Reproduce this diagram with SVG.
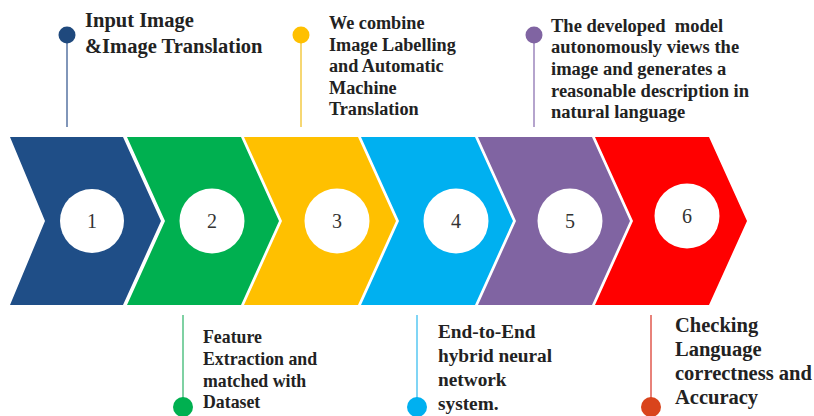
<svg xmlns="http://www.w3.org/2000/svg" width="814" height="416" viewBox="0 0 814 416">
  <style>
    .num { font-family: "Liberation Serif", "Times New Roman", serif; font-size: 20px; fill: #333; text-anchor: middle; }
    .lbl { font-family: "Liberation Serif", "Times New Roman", serif; font-weight: bold; fill: #222; }
    .disc { fill: #fff; }
    .pin { stroke-width: 2; fill: none; }
  </style>
  <defs>
    <!-- one chevron: flat top/bottom, notch on the left, point on the right -->
    <path id="chev" d="M0,137 L114,137 L152,221 L114,305 L0,305 L38,221 Z"/>
  </defs>
  <rect width="814" height="416" fill="#fff"/>

  <!-- connectors: pins from the steps to their captions -->
  <g id="connectors">
    <line class="pin" x1="67" y1="35" x2="67" y2="127" stroke="#8196b9"/>
    <line class="pin" x1="301" y1="35" x2="301" y2="127" stroke="#f6d773"/>
    <line class="pin" x1="534" y1="35" x2="534" y2="127" stroke="#b5a4cd"/>
    <line class="pin" x1="183" y1="315" x2="183" y2="400" stroke="#7fd1a3"/>
    <line class="pin" x1="417" y1="315" x2="417" y2="400" stroke="#80d5f5"/>
    <line class="pin" x1="651" y1="315" x2="651" y2="400" stroke="#e8827a"/>
    <circle cx="67" cy="35" r="8.5" fill="#1f497d"/>
    <circle cx="301" cy="35" r="8.5" fill="#ffc000"/>
    <circle cx="534" cy="35" r="8.5" fill="#8064a2"/>
    <circle cx="183" cy="407" r="10" fill="#00b050"/>
    <circle cx="417" cy="407" r="10" fill="#00b0f0"/>
    <circle cx="651" cy="407" r="10" fill="#d9441c"/>
  </g>

  <g id="step1">
    <path d="M10,137 L123,137 L161,221 L123,305 L10,305 L45,221 Z" fill="#1f4e87"/>
    <circle class="disc" cx="92" cy="221" r="32"/>
    <text class="num" x="92" y="228">1</text>
    <text class="lbl" font-size="20.5"><tspan x="85" y="27">Input Image</tspan><tspan x="85" y="53">&amp;Image Translation</tspan></text>
  </g>

  <g id="step2">
    <use href="#chev" x="127" fill="#00b050"/>
    <circle class="disc" cx="212" cy="221" r="32.5"/>
    <text class="num" x="212" y="228">2</text>
    <text class="lbl" font-size="17.8"><tspan x="203" y="343">Feature</tspan><tspan x="203" y="365">Extraction and</tspan><tspan x="203" y="387">matched with</tspan><tspan x="203" y="408">Dataset</tspan></text>
  </g>

  <g id="step3">
    <use href="#chev" x="244" fill="#ffc000"/>
    <circle class="disc" cx="337" cy="221" r="32.5"/>
    <text class="num" x="337" y="228">3</text>
    <text class="lbl" font-size="18.2"><tspan x="329" y="29">We combine</tspan><tspan x="329" y="50.5">Image Labelling</tspan><tspan x="329" y="72">and Automatic</tspan><tspan x="329" y="93.5">Machine</tspan><tspan x="329" y="115">Translation</tspan></text>
  </g>

  <g id="step4">
    <use href="#chev" x="361" fill="#00b0f0"/>
    <circle class="disc" cx="456" cy="221" r="32.5"/>
    <text class="num" x="456" y="228">4</text>
    <text class="lbl" font-size="19.3"><tspan x="438" y="338">End-to-End</tspan><tspan x="438" y="362">hybrid neural</tspan><tspan x="438" y="386">network</tspan><tspan x="438" y="410">system.</tspan></text>
  </g>

  <g id="step5">
    <use href="#chev" x="478" fill="#8064a2"/>
    <circle class="disc" cx="570" cy="221" r="32.5"/>
    <text class="num" x="570" y="228">5</text>
    <text class="lbl" font-size="18.5" xml:space="preserve"><tspan x="551" y="31.5">The developed  model</tspan><tspan x="551" y="53">autonomously views the</tspan><tspan x="551" y="75">image and generates a</tspan><tspan x="551" y="96.5">reasonable description in</tspan><tspan x="551" y="118">natural language</tspan></text>
  </g>

  <g id="step6">
    <use href="#chev" x="595" fill="#ff0000"/>
    <circle class="disc" cx="687" cy="216" r="32.5"/>
    <text class="num" x="687" y="223">6</text>
    <text class="lbl" font-size="20.5"><tspan x="675" y="332">Checking</tspan><tspan x="675" y="356">Language</tspan><tspan x="675" y="380">correctness and</tspan><tspan x="675" y="404">Accuracy</tspan></text>
  </g>
</svg>
